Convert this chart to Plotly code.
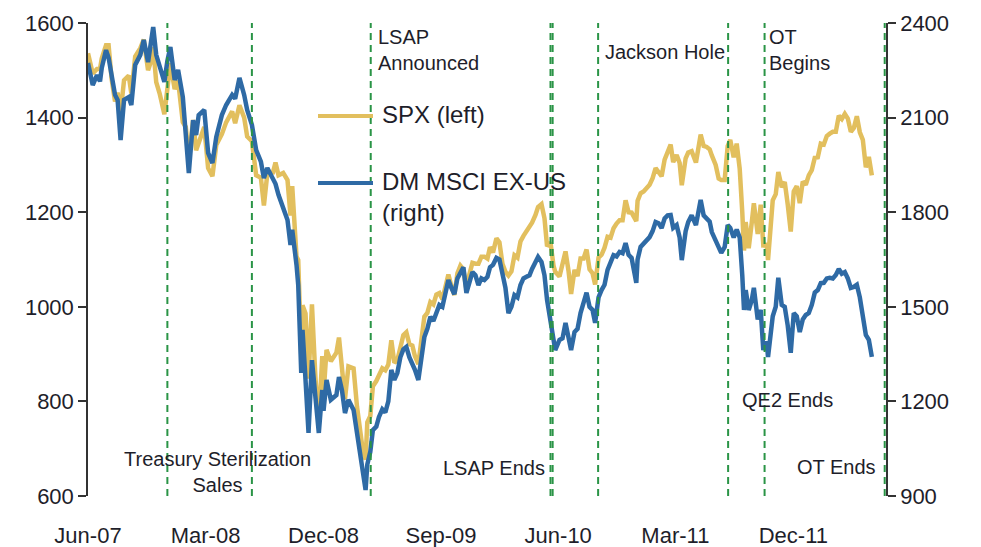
import plotly.graph_objects as go

# ---------------- data ----------------
dates = [
    # 2007
    "2007-06-01", "2007-06-07", "2007-06-12", "2007-06-22", "2007-06-29", "2007-07-03",
    "2007-07-13", "2007-07-19", "2007-07-26", "2007-08-03", "2007-08-09", "2007-08-16",
    "2007-08-24", "2007-09-04", "2007-09-10", "2007-09-19", "2007-10-01", "2007-10-09",
    "2007-10-19", "2007-10-24", "2007-10-31", "2007-11-07", "2007-11-15", "2007-11-26",
    "2007-12-03", "2007-12-10", "2007-12-20", "2007-12-28",
    # 2008
    "2008-01-08", "2008-01-15", "2008-01-22", "2008-02-01", "2008-02-08", "2008-02-14",
    "2008-02-27", "2008-03-07", "2008-03-17", "2008-03-26", "2008-04-08", "2008-04-18",
    "2008-05-02", "2008-05-09", "2008-05-19", "2008-05-30", "2008-06-06", "2008-06-17",
    "2008-06-27", "2008-07-08", "2008-07-15", "2008-07-23", "2008-08-05", "2008-08-11",
    "2008-08-18", "2008-08-29", "2008-09-08", "2008-09-15", "2008-09-19", "2008-09-29",
    "2008-10-03", "2008-10-10", "2008-10-13", "2008-10-20", "2008-10-27", "2008-11-04",
    "2008-11-12", "2008-11-20", "2008-11-28", "2008-12-01", "2008-12-08", "2008-12-18",
    "2008-12-31",
    # 2009
    "2009-01-06", "2009-01-13", "2009-01-20", "2009-01-28", "2009-02-09", "2009-02-17",
    "2009-02-23", "2009-03-02", "2009-03-09", "2009-03-13", "2009-03-20", "2009-03-26",
    "2009-04-03", "2009-04-09", "2009-04-17", "2009-04-24", "2009-05-01", "2009-05-08",
    "2009-05-15", "2009-05-22", "2009-05-29", "2009-06-05", "2009-06-12", "2009-06-19",
    "2009-06-26", "2009-07-02", "2009-07-10", "2009-07-17", "2009-07-24", "2009-07-31",
    "2009-08-07", "2009-08-14", "2009-08-21", "2009-08-28", "2009-09-04", "2009-09-11",
    "2009-09-18", "2009-09-25", "2009-10-02", "2009-10-09", "2009-10-16", "2009-10-23",
    "2009-10-30", "2009-11-06", "2009-11-13", "2009-11-20", "2009-11-27", "2009-12-04",
    "2009-12-11", "2009-12-18", "2009-12-24", "2009-12-31",
    # 2010
    "2010-01-08", "2010-01-15", "2010-01-22", "2010-01-29", "2010-02-05", "2010-02-12",
    "2010-02-19", "2010-02-26", "2010-03-05", "2010-03-12", "2010-03-19", "2010-03-26",
    "2010-04-01", "2010-04-09", "2010-04-15", "2010-04-23", "2010-04-30", "2010-05-06",
    "2010-05-14", "2010-05-21", "2010-05-25", "2010-06-04", "2010-06-11", "2010-06-18",
    "2010-06-25", "2010-07-01", "2010-07-09", "2010-07-16", "2010-07-23", "2010-07-30",
    "2010-08-06", "2010-08-13", "2010-08-20", "2010-08-26", "2010-09-03", "2010-09-10",
    "2010-09-17", "2010-09-24", "2010-10-01", "2010-10-08", "2010-10-15", "2010-10-22",
    "2010-10-29", "2010-11-05", "2010-11-12", "2010-11-19", "2010-11-30", "2010-12-03",
    "2010-12-10", "2010-12-17", "2010-12-31",
    # 2011
    "2011-01-07", "2011-01-14", "2011-01-21", "2011-01-28", "2011-02-04", "2011-02-11",
    "2011-02-18", "2011-02-24", "2011-03-04", "2011-03-11", "2011-03-16", "2011-03-25",
    "2011-03-31", "2011-04-08", "2011-04-18", "2011-04-29", "2011-05-06", "2011-05-13",
    "2011-05-20", "2011-05-25", "2011-06-03", "2011-06-10", "2011-06-16", "2011-06-24",
    "2011-07-01", "2011-07-07", "2011-07-15", "2011-07-22", "2011-07-29", "2011-08-04",
    "2011-08-08", "2011-08-12", "2011-08-19", "2011-08-26", "2011-08-31", "2011-09-09",
    "2011-09-16", "2011-09-22", "2011-09-30", "2011-10-03", "2011-10-14", "2011-10-21",
    "2011-10-27", "2011-11-04", "2011-11-11", "2011-11-18", "2011-11-25", "2011-12-02",
    "2011-12-09", "2011-12-16", "2011-12-23", "2011-12-30",
    # 2012
    "2012-01-06", "2012-01-13", "2012-01-20", "2012-01-27", "2012-02-03", "2012-02-10",
    "2012-02-17", "2012-02-24", "2012-03-02", "2012-03-09", "2012-03-16", "2012-03-23",
    "2012-03-30", "2012-04-06", "2012-04-13", "2012-04-20", "2012-04-27", "2012-05-04",
    "2012-05-11", "2012-05-18", "2012-05-25", "2012-06-01",
]

spx = [
    # 2007
    1536, 1507, 1493, 1503, 1503, 1525,
    1553, 1553, 1482, 1434, 1453, 1411,
    1479, 1489, 1451, 1529, 1547, 1565,
    1500, 1514, 1549, 1475, 1451, 1407,
    1473, 1515, 1460, 1478,
    # 2008
    1390, 1380, 1310, 1395, 1331, 1349,
    1380, 1293, 1276, 1342, 1365, 1390,
    1413, 1388, 1426, 1400, 1360, 1350,
    1278, 1273, 1214, 1282, 1284, 1305,
    1278, 1283, 1268, 1193, 1255, 1106,
    1099, 899, 1003, 986, 848, 1005,
    852, 752, 896, 816, 909, 885,
    903,
    # 2009
    935, 871, 805, 874, 870, 789,
    743, 700, 677, 756, 769, 832,
    843, 857, 870, 866, 878, 929,
    882, 887, 919, 940, 946, 921,
    918, 896, 879, 940, 979, 987,
    1010, 1005, 1026, 1029, 1016, 1042,
    1068, 1044, 1025, 1071, 1087, 1079,
    1036, 1069, 1093, 1091, 1091, 1106,
    1106, 1102, 1126, 1115,
    # 2010
    1145, 1136, 1091, 1074, 1066, 1075,
    1109, 1104, 1138, 1150, 1160, 1167,
    1178, 1194, 1211, 1217, 1187, 1128,
    1136, 1087, 1074, 1064, 1092, 1117,
    1076, 1027, 1078, 1065, 1102, 1102,
    1121, 1079, 1071, 1047, 1104, 1110,
    1125, 1148, 1146, 1166, 1176, 1183,
    1183, 1225, 1200, 1199, 1181, 1224,
    1240, 1244, 1258,
    # 2011
    1272, 1293, 1283, 1276, 1311, 1329,
    1343, 1306, 1321, 1304, 1257, 1314,
    1326, 1329, 1305, 1364, 1340, 1338,
    1333, 1320, 1300, 1271, 1268, 1268,
    1340, 1353, 1316, 1345, 1292, 1200,
    1119, 1179, 1124, 1177, 1219, 1154,
    1216, 1130, 1131, 1099, 1225, 1238,
    1285, 1253, 1264, 1216, 1159, 1244,
    1255, 1219, 1265, 1258,
    # 2012
    1278, 1289, 1315, 1316, 1345, 1343,
    1361, 1366, 1370, 1370, 1404, 1397,
    1408, 1398, 1370, 1378, 1403, 1369,
    1353, 1295, 1317, 1278,
]

msci = [
    # 2007
    2273, 2230, 2203, 2235, 2215, 2257,
    2314, 2290, 2235, 2172, 2156, 2029,
    2156, 2165, 2140, 2267, 2299, 2346,
    2276, 2320, 2387, 2299, 2267, 2213,
    2280, 2324, 2219, 2251,
    # 2008
    2165, 2061, 1924, 2092, 2045, 2108,
    2124, 1988, 1956, 2039, 2108, 2140,
    2172, 2160, 2226, 2172, 2124, 2077,
    1997, 1960, 1908, 1940, 1902, 1890,
    1855, 1807, 1775, 1696, 1744, 1633,
    1569, 1290, 1427, 1268, 1100, 1331,
    1205, 1100, 1236, 1170, 1268, 1205,
    1220,
    # 2009
    1277, 1235, 1163, 1205, 1173, 1100,
    1046, 960, 919, 1000, 1040, 1109,
    1120, 1150, 1175, 1165, 1200, 1300,
    1268, 1290, 1340, 1365, 1373, 1340,
    1320, 1300, 1268, 1350, 1404, 1430,
    1468, 1455, 1480, 1506, 1500, 1545,
    1585, 1560, 1540, 1590, 1610, 1625,
    1544, 1580, 1610, 1600, 1569, 1590,
    1585, 1595, 1625, 1633,
    # 2010
    1655, 1650, 1600, 1560, 1480, 1500,
    1537, 1530, 1569, 1590, 1595, 1600,
    1620, 1640, 1658, 1642, 1600, 1522,
    1458, 1400, 1363, 1395, 1400, 1449,
    1410, 1363, 1420, 1430, 1480, 1520,
    1545, 1500, 1490, 1449, 1530, 1553,
    1570, 1617, 1640, 1664, 1660, 1674,
    1670, 1702, 1665, 1655, 1576, 1650,
    1690, 1700, 1721,
    # 2011
    1740, 1769, 1765, 1750, 1780, 1790,
    1791, 1750, 1759, 1720, 1648, 1740,
    1769, 1790, 1759, 1839, 1790, 1782,
    1770, 1737, 1712, 1690, 1671, 1690,
    1759, 1750, 1720, 1745, 1720, 1600,
    1490, 1553, 1490, 1520, 1560, 1460,
    1490, 1363, 1390, 1341, 1470, 1500,
    1592, 1506, 1500, 1440, 1354, 1480,
    1470, 1420, 1460, 1474,
    # 2012
    1480, 1506, 1545, 1553, 1575, 1576,
    1590, 1592, 1590, 1601, 1620, 1605,
    1610, 1590, 1560, 1563, 1570, 1530,
    1474, 1411, 1395, 1341,
]

series_names = ["SPX (left)", "DM MSCI EX-US", "(right)"]

event_dates = ["2007-12-03", "2008-06-17", "2009-03-21", "2010-05-14", "2010-05-19",
               "2010-09-02", "2011-07-02", "2011-09-25", "2012-07-01"]

tick_vals = ["2007-06-01", "2008-03-01", "2008-12-01", "2009-09-01",
             "2010-06-01", "2011-03-01", "2011-12-01"]
tick_text = ["Jun-07", "Mar-08", "Dec-08", "Sep-09", "Jun-10", "Mar-11", "Dec-11"]

# ---------------- styling ----------------
GOLD = "#E2BF5E"
BLUE = "#2E6AA5"
GREEN = "#2A9446"
TXT = "#1E1E2A"
AX = "#333333"
FONT = "Liberation Sans, Arial, sans-serif"

W, H = 981, 547
L, R, T, B = 88, 95, 23, 51
PW, PH = W - L - R, H - T - B


def px(xp):
    return (xp - L) / PW


def py(yp):
    return (H - B - yp) / PH


fig = go.Figure()
fig.add_trace(go.Scatter(x=dates, y=spx, mode="lines", name=series_names[0],
                         line=dict(color=GOLD, width=4.5), yaxis="y"))
fig.add_trace(go.Scatter(x=dates, y=msci, mode="lines", name=series_names[1],
                         line=dict(color=BLUE, width=4.5), yaxis="y2"))

shapes = []
for d in event_dates:
    shapes.append(dict(type="line", xref="x", yref="paper", x0=d, x1=d, y0=0, y1=1,
                       line=dict(color=GREEN, width=2, dash="7px,5px"), layer="above"))

# manual legend samples
shapes.append(dict(type="line", xref="paper", yref="paper", x0=px(318), x1=px(373),
                   y0=py(116), y1=py(116), line=dict(color=GOLD, width=4)))
shapes.append(dict(type="line", xref="paper", yref="paper", x0=px(318), x1=px(373),
                   y0=py(183), y1=py(183), line=dict(color=BLUE, width=4)))

annots = []


def txt(text, xp, yp, xanchor="left", size=20, align="left"):
    annots.append(dict(text=text, x=px(xp), y=py(yp), xref="paper", yref="paper",
                       xanchor=xanchor, yanchor="middle", showarrow=False, align=align,
                       font=dict(family=FONT, size=size, color=TXT)))


txt("LSAP<br>Announced", 376, 50)
txt("Jackson Hole", 603, 52)
txt("OT<br>Begins", 767, 50)
txt("Treasury Sterilization<br>Sales", 217, 472, xanchor="center", align="center")
txt("LSAP Ends", 441, 468)
txt("QE2 Ends", 740, 400)
txt("OT Ends", 795, 467)
txt(series_names[0], 380, 115, size=24)
txt(series_names[1] + "<br>" + series_names[2], 380, 197, size=24)

TICKFONT = dict(family=FONT, size=22, color=TXT)

fig.update_layout(
    width=W, height=H,
    margin=dict(l=L, r=R, t=T, b=B, pad=0, autoexpand=False),
    paper_bgcolor="white", plot_bgcolor="white",
    showlegend=False,
    font=dict(family=FONT, size=20, color=TXT),
    shapes=shapes,
    annotations=annots,
    xaxis=dict(
        type="date", range=["2007-06-01", "2012-07-04"], automargin=False,
        tickmode="array", tickvals=tick_vals, ticktext=tick_text,
        showgrid=False, zeroline=False, showline=False, ticks="",
        ticklabelstandoff=24,
        tickfont=TICKFONT,
    ),
    yaxis=dict(
        range=[600, 1600], tickmode="linear", tick0=600, dtick=200, automargin=False,
        showgrid=False, zeroline=False, showline=True, linecolor=AX, linewidth=1.5,
        ticks="outside", ticklen=8, tickcolor=AX, tickwidth=1.5,
        tickfont=TICKFONT,
    ),
    yaxis2=dict(
        range=[900, 2400], tickmode="linear", tick0=900, dtick=300, automargin=False,
        overlaying="y", side="right",
        showgrid=False, zeroline=False, showline=True, linecolor=AX, linewidth=1.5,
        ticks="outside", ticklen=8, tickcolor=AX, tickwidth=1.5,
        tickfont=TICKFONT,
    ),
)

fig.write_html("out.html", config={"displayModeBar": False},
               post_script="document.body.style.margin='0';document.body.style.overflow='hidden';")
